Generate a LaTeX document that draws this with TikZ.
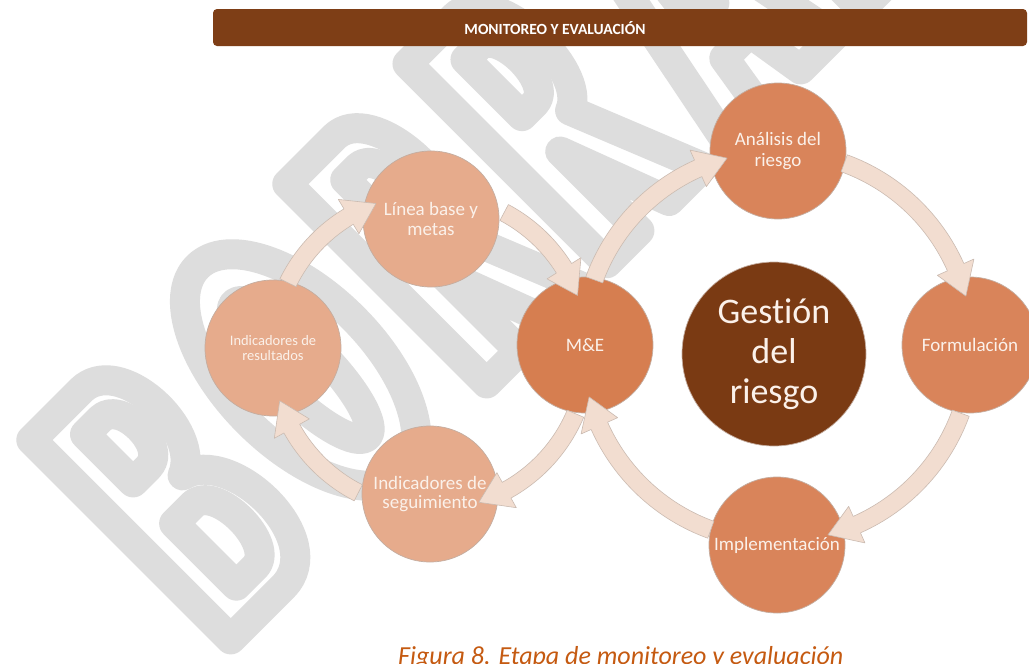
\documentclass[tikz,border=0pt]{standalone}
\usepackage{fontspec}
\setmainfont{Carlito}[Ligatures=NoCommon]
\usetikzlibrary{calc}

\definecolor{hdrbrown}{HTML}{7E3E16}
\definecolor{corebrown}{HTML}{7A3A13}
\definecolor{stageorange}{HTML}{D9845A}
\definecolor{meorange}{HTML}{D67E50}
\definecolor{lightpeach}{HTML}{E6AB8C}
\definecolor{arrowfill}{HTML}{F2DDD0}
\definecolor{arrowline}{HTML}{CBBBB1}
\definecolor{ringgray}{HTML}{C4ADA0}
\definecolor{cream}{HTML}{FBF1EA}
\definecolor{captionorange}{HTML}{C55A11}
\definecolor{wmgray}{HTML}{DDDDDD}

% curved block arrow running along a circle around centre #1
% #2 radius, #3 tail angle, #4 tip angle, #5 angular length of the head
\newcommand\cyclearrow[5]{%
  \pgfmathsetmacro\cyaOut{#2+9}\pgfmathsetmacro\cyaIn{#2-9}%
  \pgfmathsetmacro\cyaHOut{#2+20}\pgfmathsetmacro\cyaHIn{#2-20}%
  \pgfmathsetmacro\cyaBase{#4-#5}%
  \filldraw[cyclearrowstyle]
    ($(#1)+(#3:\cyaOut)$) arc[start angle=#3, end angle=\cyaBase, radius=\cyaOut]
    -- ($(#1)+(\cyaBase:\cyaHOut)$) -- ($(#1)+(#4:#2)$) -- ($(#1)+(\cyaBase:\cyaHIn)$)
    -- ($(#1)+(\cyaBase:\cyaIn)$)
    arc[start angle=\cyaBase, end angle=#3, radius=\cyaIn] -- cycle;}

\tikzset{
  stage/.style={circle, minimum size=136pt, inner sep=0pt, draw=ringgray,
    line width=0.7pt, text=cream, align=center},
  cyclearrowstyle/.style={fill=arrowfill, draw=arrowline, line width=0.6pt, line join=round},
  wmline/.style={draw=wmgray, line width=30pt, line join=round},
}

\begin{document}
\begin{tikzpicture}[x=1pt, y=-1pt]
\useasboundingbox (0,0) rectangle (1029,664);
\fill[white] (0,0) rectangle (1029,664);

% hollow "BORRADOR" watermark, drawn in a letter frame along the diagonal
\begin{scope}
  \clip (0,0) rectangle (1029,664);
  \begin{scope}[shift={(230.7,639.4)}, x={(0.7071pt,0.7071pt)}, y={(-0.7071pt,0.7071pt)}]
    % B
    \draw[wmline] (0,0) -- (0,282) -- (70,282) .. controls (124,282) and (128,168) .. (82,150)
      .. controls (138,136) and (140,0) .. (74,0) -- cycle;
    \draw[wmline] (42,180) -- (42,248) -- (64,248) .. controls (92,248) and (92,180) .. (64,180) -- cycle;
    \draw[wmline] (42,34) -- (42,122) -- (68,122) .. controls (100,122) and (100,34) .. (68,34) -- cycle;
    % O
    \draw[wmline] (240,141) ellipse[x radius=74, y radius=146];
    \draw[wmline] (240,141) ellipse[x radius=26, y radius=94];
    % R
    \foreach \rx in {362,532}{
      \draw[wmline] (\rx,0) -- (\rx,282) -- ({\rx+66},282) .. controls ({\rx+120},282) and ({\rx+124},150) .. ({\rx+82},134)
        -- ({\rx+136},0) -- ({\rx+88},0) -- ({\rx+46},112) -- ({\rx+46},0) -- cycle;
      \draw[wmline] ({\rx+44},164) -- ({\rx+44},244) -- ({\rx+62},244) .. controls ({\rx+90},244) and ({\rx+90},164) .. ({\rx+62},164) -- cycle;
    }
    % A
    \draw[wmline] (702,0) -- (758,282) -- (798,282) -- (854,0) -- (806,0) -- (796,62) -- (760,62) -- (750,0) -- cycle;
    \draw[wmline] (764,108) -- (778,226) -- (792,108) -- cycle;
    % D
    \draw[wmline] (892,0) -- (892,282) -- (952,282) .. controls (1048,282) and (1048,0) .. (952,0) -- cycle;
    \draw[wmline] (936,46) -- (936,236) -- (954,236) .. controls (996,236) and (996,46) .. (954,46) -- cycle;
  \end{scope}
\end{scope}

% title bar
\node[fill=hdrbrown, rounded corners=4pt, minimum width=814pt, minimum height=37pt,
  inner sep=0pt] (hdr) at (620,27.5) {};
\node[text=white, font=\bfseries\fontsize{15.5}{16}\selectfont, inner sep=0pt]
  (hdrtext) at (555,28) {MONITOREO Y EVALUACIÓN};

% stages
\node[stage, fill=corebrown, minimum size=184pt, font=\fontsize{36}{40}\selectfont]
  (core) at (774,354) {Gestión\\del\\riesgo};
\node[stage, fill=stageorange, font=\fontsize{19}{21}\selectfont] (ana) at (778,151) {Análisis del\\riesgo};
\begin{scope}
  \clip (0,0) rectangle (1029,664);
  \node[stage, fill=stageorange, font=\fontsize{19}{21}\selectfont] (form) at (970,345) {Formulación};
\end{scope}
\node[stage, fill=stageorange, font=\fontsize{19}{21}\selectfont] (impl) at (777,545) {Implementación};
\node[stage, fill=meorange, font=\fontsize{19}{21}\selectfont] (me) at (585,345) {M\&E};
\node[stage, fill=lightpeach, font=\fontsize{19}{20}\selectfont] (linea) at (431,219) {Línea base y\\metas};
\node[stage, fill=lightpeach, font=\fontsize{14.5}{15}\selectfont] (res) at (273,348) {Indicadores de\\resultados};
\node[stage, fill=lightpeach, font=\fontsize{19}{19}\selectfont] (seg) at (430,494) {Indicadores de\\seguimiento};

% cycle centres
\coordinate (lc) at (430,352);
\coordinate (rc) at (777.5,346.5);

% left cycle
\cyclearrow{lc}{158}{206}{250}{11}
\cyclearrow{lc}{158}{298}{339}{11}
\cyclearrow{lc}{158}{23}{72}{11}
\cyclearrow{lc}{158}{117}{162}{11}
% right cycle
\cyclearrow{rc}{195}{200}{255}{9}
\cyclearrow{rc}{195}{290}{345}{9}
\cyclearrow{rc}{195}{20}{75}{9}
\cyclearrow{rc}{195}{110}{165}{9}

% caption
\node[anchor=base west, inner sep=0pt, text=captionorange,
  font=\itshape\fontsize{26}{26}\selectfont] (cap) at (398,664)
  {Figura 8. Etapa de monitoreo y evaluación};
\end{tikzpicture}
\end{document}
